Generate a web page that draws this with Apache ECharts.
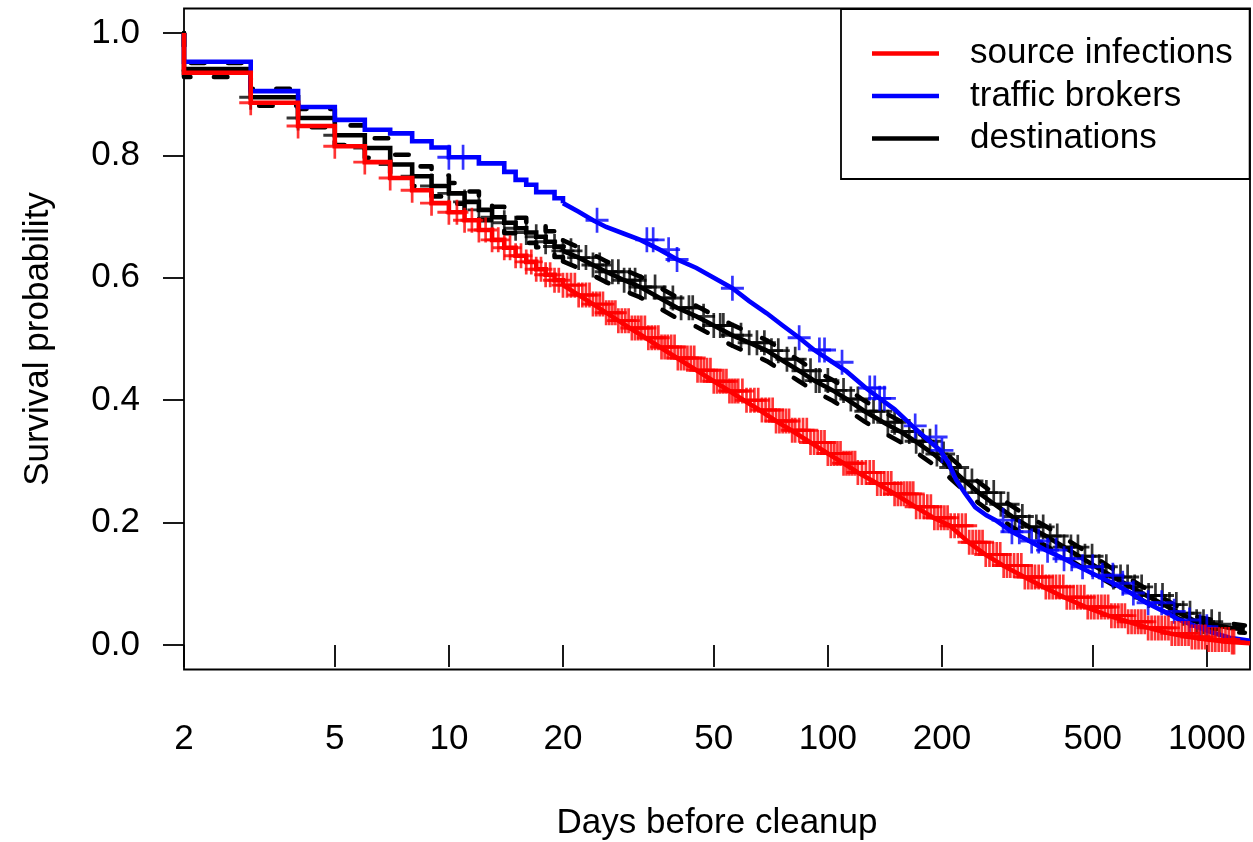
<!DOCTYPE html>
<html>
<head>
<meta charset="utf-8">
<script src="https://cdn.jsdelivr.net/npm/echarts@6/dist/echarts.min.js"></script>
<style>
html,body{margin:0;padding:0;background:#fff;}
#chart{width:1253px;height:842px;}
</style>
</head>
<body>
<div id="chart"></div>
<script>
// ---- data ----
const xTicks = [2, 5, 10, 20, 50, 100, 200, 500, 1000];
const yTicks = [0, 0.2, 0.4, 0.6, 0.8, 1.0];

const redTimes = [2,2,3,4,5,6,7,8,9,10,11,12,13,14,15,16,17,18,19,20,22,24,26,28,30,33,36,40,45,50,55,60,66,73,80,90,100,110,120,135,150,170,190,210,235,260,290,330,370,420,480,550,620,700,800,900,1000,1150,1300];
const redSurv  = [1.0,0.935,0.886,0.848,0.815,0.789,0.763,0.743,0.722,0.707,0.694,0.678,0.662,0.649,0.636,0.626,0.614,0.605,0.596,0.588,0.572,0.557,0.543,0.530,0.518,0.502,0.487,0.469,0.449,0.431,0.415,0.400,0.384,0.366,0.351,0.331,0.313,0.297,0.282,0.264,0.247,0.226,0.208,0.195,0.168,0.148,0.130,0.111,0.095,0.078,0.062,0.048,0.038,0.028,0.019,0.013,0.009,0.005,0.003];

const blueTimes = [2,2,3,4,5,6,7,8,9,10,12,14,15,16,17,19,20,22,24,26,29,32,36,40,45,50,56,62,69,76,84,92,103,112,126,137,150,167,180,198,208,218,230,245,262,277,306,340,376,420,460,510,566,630,692,770,847,940,1037,1150,1300];
const blueSurv  = [1.0,0.953,0.905,0.879,0.858,0.842,0.836,0.823,0.813,0.797,0.787,0.773,0.760,0.752,0.740,0.730,0.722,0.708,0.694,0.683,0.672,0.662,0.646,0.630,0.616,0.600,0.583,0.562,0.542,0.522,0.502,0.482,0.462,0.447,0.420,0.403,0.385,0.358,0.340,0.318,0.298,0.270,0.248,0.225,0.212,0.204,0.185,0.170,0.155,0.141,0.128,0.114,0.101,0.085,0.069,0.055,0.041,0.030,0.020,0.012,0.007];

const blackTimes = [2,2,3,4,5,6,7,8,9,10,11,12,13,14,15,16,17,18,19,20,22,24,26,29,32,36,40,45,50,56,62,69,75,84,92,103,112,125,140,155,170,190,210,230,250,275,306,340,376,420,460,510,566,630,692,770,847,940,1037,1150,1260];
const blackSurv  = [1.0,0.941,0.895,0.861,0.833,0.812,0.785,0.766,0.750,0.738,0.724,0.711,0.699,0.690,0.681,0.674,0.667,0.659,0.651,0.644,0.633,0.621,0.610,0.596,0.585,0.567,0.551,0.537,0.522,0.506,0.494,0.481,0.467,0.448,0.432,0.416,0.402,0.382,0.364,0.349,0.333,0.312,0.290,0.268,0.249,0.230,0.210,0.193,0.178,0.160,0.145,0.128,0.111,0.095,0.081,0.066,0.052,0.038,0.034,0.028,0.026];
const blackUpper = [1.0,0.951,0.909,0.876,0.849,0.828,0.801,0.782,0.767,0.755,0.741,0.728,0.716,0.707,0.698,0.691,0.684,0.676,0.668,0.661,0.650,0.638,0.627,0.613,0.602,0.584,0.568,0.554,0.539,0.523,0.511,0.498,0.484,0.465,0.449,0.433,0.419,0.399,0.381,0.366,0.350,0.329,0.307,0.285,0.266,0.247,0.227,0.209,0.194,0.175,0.160,0.142,0.124,0.107,0.092,0.076,0.061,0.046,0.041,0.035,0.032];
const blackLower = [1.0,0.928,0.881,0.846,0.817,0.796,0.769,0.750,0.733,0.721,0.707,0.694,0.682,0.673,0.664,0.657,0.650,0.642,0.634,0.627,0.616,0.604,0.593,0.579,0.568,0.550,0.534,0.520,0.505,0.489,0.477,0.464,0.450,0.431,0.415,0.399,0.385,0.365,0.347,0.332,0.316,0.295,0.273,0.251,0.232,0.213,0.193,0.177,0.162,0.145,0.130,0.114,0.098,0.083,0.070,0.056,0.043,0.030,0.027,0.021,0.020];

// censoring times (marks "+")
const redCensor = [3,4,5,6,7,8,9,10,10.5,11,11.5,12,12.5,13,13.5,14,14.5,15,15.5,16,16.5,17,17.5,18,18.5,19,19.5,20,20.5,21,21.5,22,22.5,23,23.5,24,24.5,25,25.5,26,26.5,27,27.5,28,28.6,29.2,29.8,30.4,31,31.6,32.2,32.9,33.6,34.3,35,35.7,36.4,37.1,37.8,38.6,39.4,40.2,41,41.8,42.6,43.5,44.4,45.3,46.2,47.1,48,49,50,51,52,53,54,55,56,57,58,59.5,61,62.5,64,65.5,67,68.5,70,71.5,73,74.5,76,77.5,79,80.5,82,84,86,88,90,92,94,96,98,100,102,104,106,108,110,112,114,116,118,120,123,126,129,132,135,138,141,144,147,150,153,156,159,162,165,168,171,175,179,183,187,191,195,199,203,207,211,216,221,226,231,236,241,246,251,256,261,267,273,279,285,291,297,303,310,317,324,331,338,345,352,360,368,376,384,392,400,409,418,427,436,445,455,465,475,485,495,505,516,527,538,549,560,572,584,596,608,620,633,646,659,672,686,700,715,730,745,760,776,792,808,825,842,859,877,895,913,932,951,971,991,1011,1032,1053,1075,1097,1120,1143,1166,1180];
const blueCensor = [10,10.9,24.6,33.3,34.6,38,40,56,84,95,98,109,129,133,137,141,170,193,200,290,306,320,345,360,380,400,420,440,470,500,530,565,600,640,700,760,820,900,960,1000];
const blackCensor = [3,4,5,6,7,8,9,10,11,12,13,14,15,16,17,18,19,20,21,22,23,24,25,26,27,28,29,30,31,32,33,35,37,39,41,43,44,47,50,52,53,56,59,62,65,68,71,74,78,82,86,90,93,95,100,105,110,115,120,126,132,138,144,150,157,164,171,178,186,194,202,211,220,230,240,250,262,274,286,299,312,326,340,355,370,386,403,420,438,457,477,498,520,543,567,592,618,645,673,702,732,764,797,831,866,903,940,980,1030,1080];

// ---- helpers ----
const STEP_LIMIT = 20;
function stepPart(ts, ss){ const o=[]; ts.forEach((t,i)=>{ if(t<=STEP_LIMIT) o.push([t, ss[i]]); }); return o; }
function tailPart(ts, ss){ const o=[]; ts.forEach((t,i)=>{ if(t>=STEP_LIMIT) o.push([t, ss[i]]); }); return o; }
function survAt(ts, ss, t){ let v = ss[0]; for(let i=0;i<ts.length;i++){ if(ts[i]<=t) v=ss[i]; else break; } return v; }
function marks(ts, ss, cs){ return cs.map(c=>[c, survAt(ts, ss, c)]); }

const FONT = '"Liberation Sans", Arial, Helvetica, sans-serif';
const FS = 35;
const LW = 4.6;
const PLUS = 'path://M13.25,0h3.5v13.25h13.25v3.5h-13.25v13.25h-3.5v-13.25h-13.25v-3.5h13.25z';

function curve(name, color, ts, ss, z, dashed){
  const ls = dashed ? {color:color, width:LW, type:[13.5,23.5], cap:'round', join:'round'} : {color:color, width:LW, cap:'butt', join:'miter'};
  return [
    {name:name, type:'line', step:'end', data:stepPart(ts, ss), showSymbol:false, symbol:'none', color:color, lineStyle:ls, z:z, silent:true, clip:true},
    {name:name, type:'line', data:tailPart(ts, ss), showSymbol:false, symbol:'none', color:color, lineStyle:ls, z:z, silent:true, clip:true}
  ];
}
function markSeries(name, color, data, z){
  return {name:name, type:'scatter', data:data, symbol:PLUS, symbolSize:[23,25], itemStyle:{color:color}, z:z, silent:true};
}

const series = [].concat(
  curve('destinations', '#000000', blackTimes, blackSurv, 3, false),
  curve('destinations', '#000000', blackTimes, blackUpper, 3, true),
  curve('destinations', '#000000', blackTimes, blackLower, 3, true),
  [markSeries('destinations', '#000000', marks(blackTimes, blackSurv, blackCensor), 3)],
  curve('traffic brokers', '#0000ff', blueTimes, blueSurv, 4, false),
  [markSeries('traffic brokers', '#0000ff', marks(blueTimes, blueSurv, blueCensor), 4)],
  curve('source infections', '#ff0000', redTimes, redSurv, 5, false),
  [markSeries('source infections', '#ff0000', marks(redTimes, redSurv, redCensor), 5)]
);

const chart = echarts.init(document.getElementById('chart'), null, {renderer:'canvas'});
chart.setOption({
  animation:false,
  backgroundColor:'#ffffff',
  textStyle:{fontFamily:FONT},
  grid:{left:184, right:3, top:8.5, bottom:172.5, containLabel:false, outerBoundsMode:'none', show:true, borderColor:'#000', borderWidth:1.8, backgroundColor:'transparent'},
  legend:{
    show:true, orient:'vertical', left:841, top:9,
    data:['source infections','traffic brokers','destinations'],
    icon:'rect', itemWidth:67, itemHeight:4.5, itemGap:7.5,
    padding:[27,17,23,31],
    borderColor:'#000', borderWidth:1.8, backgroundColor:'#fff',
    selectedMode:false,
    textStyle:{fontFamily:FONT, fontSize:FS, color:'#000', lineHeight:34, padding:[0,0,0,26]}
  },
  xAxis:{
    type:'log', logBase:10, min:2, max:1300,
    name:'Days before cleanup', nameLocation:'middle', nameGap:136,
    nameTextStyle:{fontFamily:FONT, fontSize:FS, color:'#000'},
    axisLine:{show:false},
    axisTick:{show:true, inside:false, length:22, lineStyle:{color:'#000', width:1.8}, customValues:xTicks},
    axisLabel:{show:true, margin:52, fontFamily:FONT, fontSize:FS, color:'#000', customValues:xTicks, formatter:(v)=>String(Math.round(v))},
    splitLine:{show:false}
  },
  yAxis:{
    type:'value', min:-0.04, max:1.04,
    name:'Survival probability', nameLocation:'middle', nameGap:128,
    nameTextStyle:{fontFamily:FONT, fontSize:FS, color:'#000'},
    axisLine:{show:false},
    axisTick:{show:true, inside:false, length:21, lineStyle:{color:'#000', width:1.8}, customValues:yTicks},
    axisLabel:{show:true, margin:44, fontFamily:FONT, fontSize:FS, color:'#000', customValues:yTicks, formatter:(v)=>v.toFixed(1)},
    splitLine:{show:false}
  },
  series:series
});
</script>
</body>
</html>
